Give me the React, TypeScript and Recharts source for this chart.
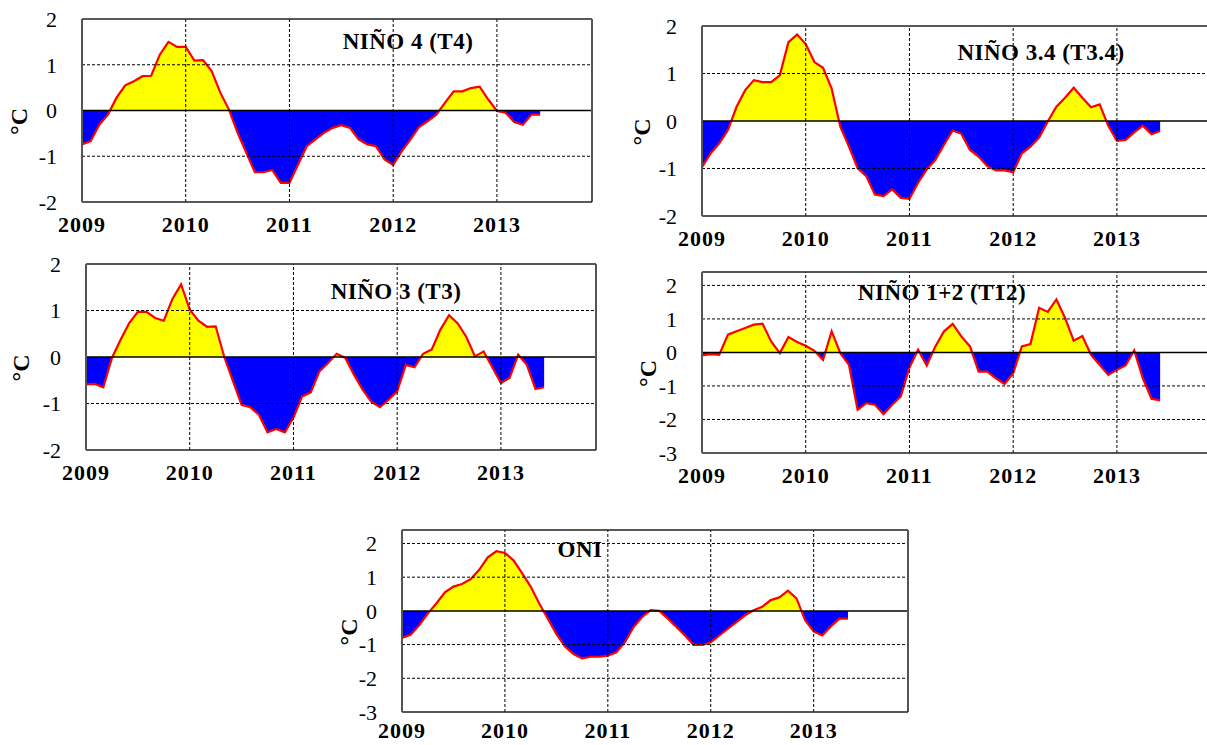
import React from 'react';
import { ComposedChart, Area, XAxis, YAxis, ReferenceLine } from 'recharts';

// monthly anomalies (°C), Jan 2009 onwards
const nino4 = [
  -0.74, -0.67, -0.31, -0.09, 0.28, 0.55, 0.64, 0.75, 0.76, 1.22, 1.5, 1.39,
  1.39, 1.09, 1.1, 0.86, 0.39, 0.02, -0.49, -0.92, -1.35, -1.35, -1.3, -1.58,
  -1.58, -1.18, -0.78, -0.63, -0.49, -0.38, -0.32, -0.38, -0.63, -0.74, -0.78, -1.07,
  -1.19, -0.89, -0.63, -0.36, -0.23, -0.09, 0.17, 0.42, 0.42, 0.49, 0.52, 0.24,
  -0.01, -0.05, -0.25, -0.31, -0.09, -0.09,
];
const nino34 = [
  -0.97, -0.68, -0.47, -0.19, 0.3, 0.65, 0.86, 0.82, 0.82, 0.96, 1.66, 1.82,
  1.62, 1.24, 1.12, 0.68, -0.12, -0.54, -0.99, -1.16, -1.55, -1.58, -1.44, -1.62,
  -1.64, -1.3, -1.02, -0.82, -0.5, -0.2, -0.27, -0.61, -0.75, -0.95, -1.04, -1.04,
  -1.08, -0.68, -0.54, -0.35, -0.01, 0.3, 0.49, 0.7, 0.49, 0.29, 0.35, -0.1,
  -0.42, -0.4, -0.24, -0.1, -0.28, -0.21,
];
const nino3 = [
  -0.59, -0.58, -0.65, -0.02, 0.37, 0.73, 0.97, 0.97, 0.84, 0.78, 1.25, 1.56,
  1.02, 0.78, 0.65, 0.66, 0.0, -0.52, -1.03, -1.08, -1.24, -1.62, -1.55, -1.62,
  -1.3, -0.85, -0.76, -0.31, -0.13, 0.07, -0.02, -0.38, -0.7, -0.96, -1.08, -0.92,
  -0.74, -0.17, -0.22, 0.07, 0.16, 0.59, 0.9, 0.72, 0.43, 0.01, 0.12, -0.22,
  -0.56, -0.45, 0.05, -0.17, -0.69, -0.65,
];
const nino12 = [
  -0.09, -0.05, -0.07, 0.53, 0.63, 0.73, 0.83, 0.86, 0.33, -0.02, 0.46, 0.31,
  0.2, 0.05, -0.22, 0.63, -0.02, -0.37, -1.71, -1.51, -1.56, -1.84, -1.56, -1.31,
  -0.45, 0.08, -0.39, 0.18, 0.63, 0.85, 0.48, 0.18, -0.57, -0.57, -0.77, -0.94,
  -0.62, 0.18, 0.25, 1.33, 1.21, 1.58, 1.03, 0.35, 0.49, -0.07, -0.37, -0.67,
  -0.52, -0.39, 0.06, -0.77, -1.38, -1.43,
];
const oni = [
  -0.8, -0.71, -0.43, -0.08, 0.22, 0.55, 0.72, 0.8, 0.94, 1.22, 1.59, 1.77,
  1.72, 1.5, 1.12, 0.72, 0.22, -0.23, -0.68, -1.06, -1.28, -1.41, -1.36, -1.36,
  -1.33, -1.23, -0.93, -0.48, -0.18, 0.02, 0.0, -0.23, -0.48, -0.73, -1.01, -1.01,
  -0.93, -0.73, -0.53, -0.33, -0.13, 0.02, 0.12, 0.32, 0.4, 0.6, 0.37, -0.28,
  -0.61, -0.73, -0.46, -0.23, -0.23,
];

const yearTicks = [0, 12, 24, 36, 48];
const yearLabels = ['2009', '2010', '2011', '2012', '2013'];
const ticksShort = [-2, -1, 0, 1, 2];
const ticksTall = [-3, -2, -1, 0, 1, 2];
const lastMonth = 59;

const serif = '"Liberation Serif", "Times New Roman", serif';
const AXIS_W = 80;
const TOP = 14;
const BOTTOM = 36;

interface PanelProps {
  id: string;
  title: string;
  values: number[];
  yDomain: [number, number];
  yTicks: number[];
  x: number;
  y: number;
  w: number;
  h: number;
  titleX: number;
  titleY: number;
  unitGap: number;
  xTickMargin?: number;
}

const Panel: React.FC<PanelProps> = (p) => {
  const data = p.values.map((v, i) => ({ m: i, v }));
  const max = Math.max(...p.values);
  const min = Math.min(...p.values);
  const split = max / (max - min);
  const gridY = p.yTicks.filter((t) => t !== 0 && t !== p.yDomain[1] && t !== p.yDomain[0]);
  const gridX = yearTicks.filter((t) => t > 0);

  return (
    <>
      <div style={{ position: 'absolute', left: p.x - AXIS_W, top: p.y - TOP }}>
        <ComposedChart
          width={AXIS_W + p.w + 3}
          height={TOP + p.h + BOTTOM}
          data={data}
          margin={{ top: TOP, right: 3, left: 0, bottom: 0 }}
        >
          <defs>
            <linearGradient id={`fill-${p.id}`} x1="0" y1="0" x2="0" y2="1">
              <stop offset={0} stopColor="#ffff00" />
              <stop offset={split} stopColor="#ffff00" />
              <stop offset={split} stopColor="#0000ff" />
              <stop offset={1} stopColor="#0000ff" />
            </linearGradient>
          </defs>
          <XAxis
            dataKey="m"
            type="number"
            domain={[0, lastMonth]}
            ticks={yearTicks}
            interval={0}
            tickFormatter={(t: number) => yearLabels[yearTicks.indexOf(t)]}
            height={BOTTOM}
            tickLine={false}
            tickSize={0}
            tickMargin={p.xTickMargin ?? 14}
            axisLine={{ stroke: '#222', strokeWidth: 1.5 }}
            tick={{ fill: '#000', fontSize: 22, fontWeight: 'bold', fontFamily: serif, letterSpacing: 1 }}
          />
          <YAxis
            type="number"
            domain={p.yDomain}
            ticks={p.yTicks}
            interval={0}
            width={AXIS_W}
            tickLine={false}
            tickSize={0}
            tickMargin={25}
            axisLine={{ stroke: '#555', strokeWidth: 2 }}
            tick={{ fill: '#000', fontSize: 22, fontFamily: serif }}
            label={{
              content: ({ viewBox }: any) => {
                const cx = viewBox.x + viewBox.width - p.unitGap;
                const cy = viewBox.y + viewBox.height / 2 + 11;
                return (
                  <text
                    x={cx}
                    y={cy}
                    transform={`rotate(-90 ${cx} ${cy})`}
                    textAnchor="middle"
                    dominantBaseline="central"
                    fontFamily={serif}
                    fontWeight="bold"
                    fontSize={24}
                    fill="#000"
                  >
                    °C
                  </text>
                );
              },
            }}
          />
          <Area
            type="linear"
            dataKey="v"
            baseValue={0}
            stroke="#ff0000"
            strokeWidth={2.2}
            fill={`url(#fill-${p.id})`}
            fillOpacity={1}
            dot={false}
            activeDot={false}
            isAnimationActive={false}
          />
          {gridY.map((t) => (
            <ReferenceLine key={`gy${t}`} y={t} stroke="#000" strokeDasharray="3 2" strokeWidth={1} />
          ))}
          {gridX.map((t) => (
            <ReferenceLine key={`gx${t}`} x={t} stroke="#000" strokeDasharray="3 2" strokeWidth={1} />
          ))}
          <ReferenceLine y={0} stroke="#000" strokeWidth={1.5} />
          <ReferenceLine y={p.yDomain[1]} stroke="#222" strokeWidth={1.5} />
          <ReferenceLine x={lastMonth} stroke="#555" strokeWidth={2} />
        </ComposedChart>
      </div>
      <div
        style={{
          position: 'absolute',
          left: p.titleX,
          top: p.titleY - 21,
          transform: 'translateX(-50%)',
          fontFamily: serif,
          fontWeight: 'bold',
          fontSize: 23,
          lineHeight: '23px',
          letterSpacing: 0.5,
          whiteSpace: 'nowrap',
          color: '#000',
        }}
      >
        {p.title}
      </div>
    </>
  );
};

export default function App() {
  return (
    <div
      style={{
        position: 'absolute',
        left: 0,
        top: 0,
        width: 1207,
        height: 745,
        overflow: 'hidden',
        background: '#fff',
      }}
    >
      <Panel id="n4" title="NIÑO 4 (T4)" values={nino4} yDomain={[-2, 2]} yTicks={ticksShort}
        x={82} y={19} w={510} h={183} titleX={408} titleY={51} unitGap={63} />
      <Panel id="n34" title="NIÑO 3.4 (T3.4)" values={nino34} yDomain={[-2, 2]} yTicks={ticksShort}
        x={702} y={26} w={510} h={190} titleX={1041} titleY={62} unitGap={60} />
      <Panel id="n3" title="NIÑO 3 (T3)" values={nino3} yDomain={[-2, 2]} yTicks={ticksShort}
        x={86} y={264} w={510} h={186} titleX={396} titleY={301} unitGap={65} />
      <Panel id="n12" title="NIÑO 1+2 (T12)" values={nino12} yDomain={[-3, 2.4]} yTicks={ticksTall}
        x={702} y={272} w={510} h={181} titleX={942} titleY={302} unitGap={54} />
      <Panel id="oni" title="ONI" values={oni} yDomain={[-3, 2.4]} yTicks={ticksTall}
        x={402} y={530} w={506} h={182} titleX={580} titleY={559} unitGap={53} xTickMargin={10} />
    </div>
  );
}
